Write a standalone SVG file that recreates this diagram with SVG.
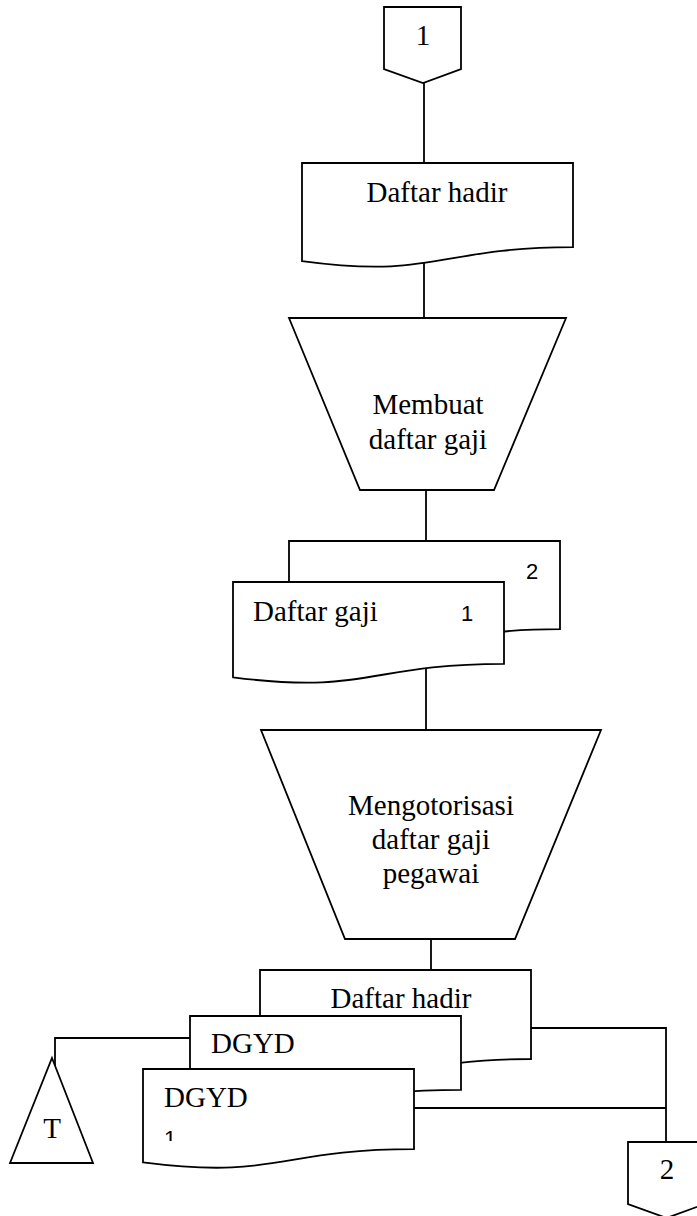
<svg xmlns="http://www.w3.org/2000/svg" width="697" height="1216" viewBox="0 0 697 1216">
  <style>
    .shape { fill: #ffffff; stroke: #000000; stroke-width: 1.8; stroke-linejoin: miter; }
    .line { fill: none; stroke: #000000; stroke-width: 1.8; }
    .serif { font-family: "Liberation Serif", "Times New Roman", serif; font-size: 29px; fill: #000000; }
    .sans { font-family: "Liberation Sans", Arial, sans-serif; font-size: 22px; fill: #000000; }
    .mid { text-anchor: middle; }
  </style>
  <defs>
    <clipPath id="clip-front-doc">
      <rect x="143" y="1069" width="271" height="72"/>
    </clipPath>
  </defs>

  <!-- connectors (drawn first so the white node fills sit on top) -->
  <g id="connectors">
    <path class="line" d="M424,83 V163"/>
    <path class="line" d="M424,262 V318"/>
    <path class="line" d="M426,490 V541"/>
    <path class="line" d="M426,668 V730"/>
    <path class="line" d="M431,939 V970"/>
    <path class="line" d="M190,1038 H55 V1066"/>
    <path class="line" d="M531,1028 H666 V1142"/>
    <path class="line" d="M414,1108 H666"/>
  </g>

  <!-- off-page connector 1 -->
  <g id="connector-in">
    <path class="shape" d="M384,7 H461 V69 L423,83 L384,69 Z"/>
    <text class="serif mid" x="423" y="45">1</text>
  </g>

  <!-- document: daftar hadir -->
  <g id="doc-daftar-hadir">
    <path class="shape" d="M302,163 H573 V247.2 C437.5,247.2 437.5,279.3 302,261.1 Z"/>
    <text class="serif mid" x="437" y="202">Daftar hadir</text>
  </g>

  <!-- manual operation: membuat daftar gaji -->
  <g id="proc-membuat">
    <path class="shape" d="M289,318 H566 L494,490 H360 Z"/>
    <text class="serif mid" x="428" y="414">Membuat</text>
    <text class="serif mid" x="428" y="449">daftar gaji</text>
  </g>

  <!-- document stack: daftar gaji (copies 1 and 2) -->
  <g id="doc-daftar-gaji">
    <path class="shape" d="M289,541 H560 V629.2 C424.5,629.2 424.5,662.8 289,643.7 Z"/>
    <text class="sans" x="526" y="579">2</text>
    <path class="shape" d="M233,582 H504 V663.8 C368.5,663.8 368.5,695 233,677.3 Z"/>
    <text class="serif" x="253" y="621">Daftar gaji</text>
    <text class="sans" x="461" y="621">1</text>
  </g>

  <!-- manual operation: mengotorisasi daftar gaji pegawai -->
  <g id="proc-otorisasi">
    <path class="shape" d="M261,730 H601 L515,939 H345 Z"/>
    <text class="serif mid" x="431" y="815">Mengotorisasi</text>
    <text class="serif mid" x="431" y="849">daftar gaji</text>
    <text class="serif mid" x="431" y="883">pegawai</text>
  </g>

  <!-- document stack: daftar hadir, DGYD, DGYD 1 -->
  <g id="doc-stack-output">
    <path class="shape" d="M260,970 H531 V1059 C395.5,1059 395.5,1093 260,1073.7 Z"/>
    <text class="serif mid" x="401" y="1008">Daftar hadir</text>
    <path class="shape" d="M190,1016 H461 V1089.8 C325.5,1089.8 325.5,1117.9 190,1101.9 Z"/>
    <text class="serif" x="211" y="1053">DGYD</text>
    <path class="shape" d="M143,1069 H414 V1149.2 C278.5,1149.2 278.5,1179.8 143,1162.4 Z"/>
    <text class="serif" x="164" y="1107">DGYD</text>
    <text class="sans" x="164" y="1146" clip-path="url(#clip-front-doc)">1</text>
  </g>

  <!-- archive: T -->
  <g id="archive-t">
    <path class="shape" d="M52,1058 L93,1163 H10 Z"/>
    <text class="serif mid" x="52" y="1138">T</text>
  </g>

  <!-- off-page connector 2 -->
  <g id="connector-out">
    <path class="shape" d="M628,1142 H705 V1204 L666.5,1218 L628,1204 Z"/>
    <text class="serif mid" x="667" y="1179">2</text>
  </g>
</svg>
